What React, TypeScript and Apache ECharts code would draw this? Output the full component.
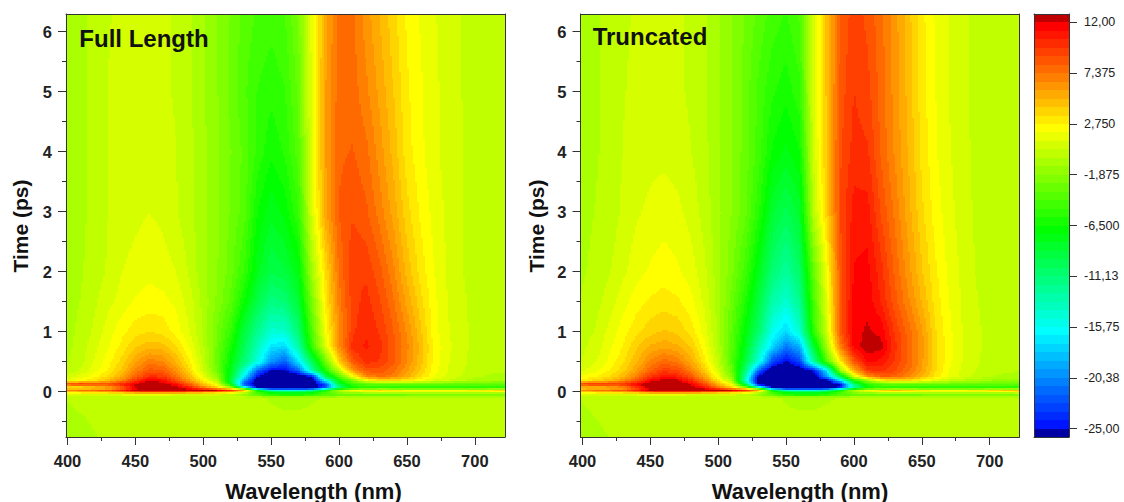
import React, { useEffect, useRef } from "react";
import * as echarts from "echarts";

const wavelengths = [398, 410, 420, 430, 440, 450, 460, 470, 480, 490, 500, 510, 520, 530, 540, 550, 560, 570, 580, 590, 600, 610, 620, 630, 640, 650, 660, 670, 680, 690, 700, 710, 723];
const times = [6.3, 5, 4, 3, 2, 1.5, 1, 0.75, 0.5, 0.35, 0.25, 0.18, 0.13, 0.09, 0.06, 0.02, -0.01, -0.04, -0.07, -0.1, -0.76];

const fullLength = [
  [-.9,-.5,-.1,.4,.55,.6,.6,.55,.35,-.2,-1,-1.8,-2.7,-3.7,-4.3,-4.6,-4.2,-2.5,1.5,5.5,7.6,7.5,6.2,5,3.8,2.6,1.9,1.3,.8,.45,.1,0,-.1],
  [-.9,-.5,-.1,.45,.6,.7,.7,.6,.35,-.2,-1,-1.8,-2.8,-4,-5,-5.5,-5,-3.2,1.5,5.8,7.8,7.8,6.8,5.6,4.3,2.9,2.1,1.4,.9,.45,.1,0,-.1],
  [-.9,-.5,-.1,.45,.7,.85,.9,.8,.45,-.1,-.9,-1.7,-2.6,-3.6,-5.2,-6.3,-5.6,-3.8,1.5,5.8,8,8.2,7.6,6.2,4.8,3.1,2.2,1.4,.9,.5,.1,0,-.1],
  [-.9,-.5,-.1,.45,.75,1,1.2,1,.5,-.1,-.9,-1.7,-2.7,-3.8,-6.5,-7.8,-7,-5,1,5.6,8.2,8.8,8.3,7,5.5,3.8,2.6,1.7,1,.5,.1,0,-.1],
  [-.8,-.4,0,.55,1.2,1.5,1.8,1.6,1.2,.3,-.9,-1.8,-3,-5,-7.8,-9.5,-9,-7.5,-1,3.5,7.5,9.6,9.5,8.4,6.8,4.8,3.2,2,1.1,.5,.1,0,-.1],
  [-.7,-.3,.3,1,1.5,2.1,2.3,2.2,1.8,.8,-.6,-2,-3.6,-6.5,-9.5,-11.5,-11,-8.8,-2.5,3,7,9.3,10,9,7.5,5.6,3.8,2.2,1.2,.6,.2,0,-.1],
  [-.7,-.1,.6,1.6,2.5,3.2,3.5,3.3,2.4,1.2,-.5,-2.6,-5,-9,-12,-14.5,-14.5,-11,-4,2,6.5,9.5,10.4,9.6,8.2,6.5,4.5,2.3,1.3,.7,.2,0,-.1],
  [-.6,0,1,1.9,3,4.2,4.8,4.6,3.5,1.9,-.2,-2.8,-6,-9.8,-13.5,-17,-17.5,-13,-5,1,6.5,10,10.6,10,8.4,6.8,4.8,2.6,1.4,.7,.2,0,-.1],
  [-.5,.2,1.3,2.4,3.8,5.6,7,6.7,5,2.8,.2,-3,-7,-11,-15,-20,-22,-17,-10,-3,4,8.5,10,9.6,8.4,6.6,4.6,2.5,1.3,.7,.1,-.1,-.2],
  [-.3,.6,1.7,2.8,4.5,6.8,8.5,8.2,6.3,3.6,.6,-2.6,-7.5,-14,-22,-25.3,-25.3,-22,-13,-6,0,6,8.5,8.6,7.6,6,4.2,2.3,1.2,.6,0,-.2,-.3],
  [.5,1.6,2.5,3.8,5.5,8,10,9.8,7.6,4.8,1.6,-1.5,-7.8,-16.5,-25,-27,-27,-27,-25,-10,-4,2,6.5,7.5,7,5.4,3.6,2,1,.4,-.2,-.4,-.5],
  [1.5,2.5,3.5,5,7,10,12.2,11.5,9,6,3,0,-9,-20,-27,-27,-27,-27,-27,-17,-7,-3,1.5,2.8,3,2.7,2,1,.4,-.3,-.8,-1,-1.2],
  [9,10,9,9,10.5,12,12.8,12.5,11,8,4.5,1.5,-7,-22,-27,-27,-27,-27,-27,-22,-8,-4.5,-3.5,-3,-3,-3,-3,-3,-3.2,-3.2,-3.3,-3.3,-3.4],
  [5,5,6,7,9.5,12.5,13.5,13,12,9.5,6,3,-3,-20,-27,-27,-27,-27,-27,-24,-12,-6.5,-5,-5,-5,-5,-5,-5,-5,-5,-5,-5,-5],
  [3,3,3.5,4.5,7,11.5,13.5,13.5,13,11,8,5,1,-8,-24,-27,-27,-27,-27,-20,-10,-6,-5.5,-5,-5,-5,-5,-5,-5,-5,-5,-5,-5],
  [6.5,7.5,8,8.5,10.5,12.6,13.5,13.5,13,12.8,12.5,12,10,5,-7,-14,-15,-15,-13,-7,-1,2,3,3.6,3.2,2.6,2.4,2.4,2.4,2.6,3,3.4,3.8],
  [3,3.5,4,4.5,5.5,7,8,8,7.5,7,6,5,4,1,-4,-7,-8,-8,-7,-4,-1,0,.6,.8,.7,.5,.5,.5,.5,.6,.7,.8,.9],
  [1,1.5,1.8,2,2,2.2,2.2,2.2,2,1.8,1.5,1,.3,-2,-5,-7,-8,-8,-7,-5,-4,-3.5,-3.5,-3.5,-3.5,-3.5,-3.2,-3,-3,-3,-3,-2.8,-2.6],
  [0,.2,.3,.3,.4,.4,.4,.4,.3,.3,.2,.1,0,-.5,-2,-3.5,-4,-4,-3.5,-2.8,-2.4,-2,-2,-2,-2,-1.8,-1.6,-1.5,-1.5,-1.5,-1.4,-1.3,-1.2],
  [-.3,0,.1,.1,.1,.1,.1,.1,.1,.1,.1,.1,.1,0,-.2,-.4,-.5,-.5,-.4,-.3,-.2,-.2,-.2,-.2,-.2,-.1,-.1,-.1,-.1,-.1,-.1,-.1,-.1],
  [-1.2,-.8,-.4,-.1,0,0,0,0,0,0,0,0,0,0,0,0,0,0,0,0,0,0,0,0,0,0,0,0,0,0,0,0,0],
];

const truncated = [
  [-.7,-.4,-.1,.3,.55,.6,.6,.55,.3,-.2,-1,-1.8,-2.7,-3.7,-4.5,-5,-4,1,4.5,8.2,9.3,8.7,7.6,6.2,4.6,3,1.9,1.2,.6,.2,0,0,-.1],
  [-.7,-.4,-.1,.4,.6,.7,.7,.6,.3,-.2,-1,-1.9,-3,-4.4,-5.6,-6.2,-5.2,1,4.5,8.5,9.7,9.2,7.8,6.3,4.8,3.1,2,1.2,.6,.2,0,0,-.1],
  [-.7,-.4,-.1,.45,.75,.95,1,.85,.45,-.1,-1,-1.9,-3,-4.6,-6.6,-7.5,-6.5,.5,4.5,8.8,10,9.8,8,6.5,5,3.3,2.1,1.3,.7,.25,.05,0,-.1],
  [-.6,-.3,0,.6,1.1,1.4,1.6,1.4,.9,.1,-.9,-1.9,-3.2,-5.6,-8.6,-9.8,-8.4,-.3,4,9,10.8,10.8,8.8,7.2,5.4,3.7,2.4,1.5,.8,.3,.05,0,-.1],
  [-.5,-.1,.4,1,1.7,2.1,2.4,2.1,1.6,.6,-.8,-2.4,-4.6,-7.8,-11,-12.5,-10.5,-3.5,2,8.5,11.3,11.5,10,8,6.2,4.4,2.9,1.8,1,.4,.1,0,-.1],
  [-.3,.2,.8,1.7,2.4,2.9,3.1,2.9,2.2,1,-.7,-3,-5.8,-9.2,-13,-14.5,-12,-4.6,1.3,8.5,11.6,11.8,10.4,8.5,6.8,5,3.2,2,1.1,.5,.1,0,-.1],
  [0,.5,1.5,2.4,3.3,4,4.4,4.1,3.2,1.6,-.6,-3.6,-7,-10.8,-15.5,-17.5,-14.5,-5.5,.5,8.5,11.8,12.1,11.8,9.6,7.8,6,3.6,2.2,1.2,.6,.2,0,-.1],
  [.2,.8,1.8,2.8,4.2,5.2,5.6,5.2,4.2,2.2,-.4,-3.8,-7.8,-13,-17.5,-21,-19,-9,-1,7,11.5,12.5,12.3,10,8,6.2,3.8,2.3,1.2,.6,.2,0,-.1],
  [.4,1.2,2.2,3.4,5,6.8,7.8,7.2,5.4,3,.2,-3.8,-9,-15,-23,-25.3,-23,-13,-4,3,8.5,11.5,11,9.6,8,6,3.8,2.2,1.2,.6,.1,-.1,-.2],
  [1,1.8,2.8,4,5.8,8,9.5,9,7,4.2,.9,-3.2,-11,-22,-27,-27,-27,-25,-17,-1,5,9.5,10,9,7.6,5.8,3.6,2,1,.4,0,-.2,-.3],
  [2,2.8,3.6,5,7.2,9.8,11,10.6,8.6,5.6,1.9,-2,-13,-26,-27,-27,-27,-27,-20,-10,1,6,8,8,6.8,5,3.2,1.8,.9,.2,-.3,-.5,-.6],
  [3,4,5,6.5,8.8,11.6,12.8,12.4,10.4,7.2,3.3,-.5,-14,-27,-27,-27,-27,-27,-27,-18,-7,-2,2,3,3,2.2,1,0,-.5,-1,-1.3,-1.4,-1.5],
  [9.5,10.5,9.5,10,11.5,13,13.5,13.2,11.8,9,5,1.5,-10,-27,-27,-27,-27,-27,-27,-24,-10,-5,-3.5,-3.2,-3,-3,-3,-3,-3.2,-3.2,-3.3,-3.3,-3.4],
  [6,6,7,8,11,13.5,13.8,13.5,12.6,10,6.2,3,-5,-20,-27,-27,-27,-27,-27,-26,-14,-6.5,-5,-5,-5,-5,-5,-5,-5,-5,-5,-5,-5],
  [4,4,4.5,5.5,8.5,12.5,13.8,13.5,13,11.5,8.5,5,1,-8,-24,-27,-27,-27,-27,-21,-11,-6,-5.5,-5,-5,-5,-5,-5,-5,-5,-5,-5,-5],
  [6.5,7.5,8,8.5,10.5,12.6,13.5,13.5,13,12.8,12.5,12,10,5,-8,-14,-15,-15,-13,-7,-1,2,3.5,4.5,4,3,2.6,2.6,2.6,3,3.6,4.4,5],
  [3,3.5,4,4.5,5.5,7,8,8,7.5,7,6,5,4,1,-4,-7,-8,-8,-7,-4,-1,0,.7,1,.9,.6,.5,.5,.5,.6,.8,1,1.2],
  [1,1.5,1.8,2,2,2.2,2.2,2.2,2,1.8,1.5,1,.3,-2,-5,-7,-8,-8,-7,-5,-4,-3.5,-3.5,-3.5,-3.5,-3.5,-3.2,-3,-3,-3,-3,-2.8,-2.6],
  [0,.2,.3,.3,.4,.4,.4,.4,.3,.3,.2,.1,0,-.5,-2,-3.5,-4,-4,-3.5,-2.8,-2.4,-2,-2,-2,-2,-1.8,-1.6,-1.5,-1.5,-1.5,-1.4,-1.3,-1.2],
  [-.3,0,.1,.1,.1,.1,.1,.1,.1,.1,.1,.1,.1,0,-.2,-.4,-.5,-.5,-.4,-.3,-.2,-.2,-.2,-.2,-.2,-.1,-.1,-.1,-.1,-.1,-.1,-.1,-.1],
  [-1,-.6,-.3,-.1,0,0,0,0,0,0,0,0,0,0,0,0,0,0,0,0,0,0,0,0,0,0,0,0,0,0,0,0,0],
];

const xMajor = [400, 450, 500, 550, 600, 650, 700];
const xMinor = [425, 475, 525, 575, 625, 675];
const yMajor = [0, 1, 2, 3, 4, 5, 6];
const yMinor = [-0.5, 0.5, 1.5, 2.5, 3.5, 4.5, 5.5];
const scaleTicks = [12, 7.375, 2.75, -1.875, -6.5, -11.125, -15.75, -20.375, -25];
const scaleLabels = ["12,00", "7,375", "2,750", "-1,875", "-6,500", "-11,13", "-15,75", "-20,38", "-25,00"];
const panelTitles = ["Full Length", "Truncated"];

const LOW = -25;
const STEP = 4.625 / 6;
const BANDS = 48;
const FONT = "'Liberation Sans', Arial, sans-serif";
const INK = "#222";

function bandColor(k: number): string {
  if (k < 0) return "rgb(0,0,165)";
  if (k >= BANDS) return "rgb(190,0,0)";
  const s = 255 / 12;
  if (k <= 11) return `rgb(0,${Math.round(s * (k + 1))},255)`;
  if (k <= 23) return `rgb(0,255,${Math.round(255 - s * (k - 11))})`;
  if (k <= 35) return `rgb(${Math.round(s * (k - 23))},255,0)`;
  return `rgb(255,${Math.round(255 - s * (k - 35))},0)`;
}
const valueBand = (v: number) => Math.floor((v - LOW) / STEP);

const cellsOf = (rows: number[][]) => {
  const out: number[][] = [];
  for (let j = 0; j < times.length - 1; j++)
    for (let i = 0; i < wavelengths.length - 1; i++) out.push([i, j, wavelengths[i], times[j], rows[j][i]]);
  return out;
};

const contourCell = (rows: number[][]) => (_p: any, api: any) => {
  const i = api.value(0);
  const j = api.value(1);
  const a = api.coord([wavelengths[i], times[j]]);
  const b = api.coord([wavelengths[i + 1], times[j + 1]]);
  const x0 = Math.round(a[0]);
  const x1 = Math.round(b[0]);
  const y0 = Math.round(a[1]);
  const y1 = Math.round(b[1]);
  const v00 = rows[j][i];
  const v10 = rows[j][i + 1];
  const v01 = rows[j + 1][i];
  const v11 = rows[j + 1][i + 1];
  const children: any[] = [];
  const sx = 2;
  const sy = 2;
  for (let y = y0; y < y1; y += sy) {
    const h = Math.min(sy, y1 - y);
    const fy = (y + h / 2 - a[1]) / (b[1] - a[1]);
    let runStart = x0;
    let runBand: number | null = null;
    for (let x = x0; x < x1; x += sx) {
      const w = Math.min(sx, x1 - x);
      const fx = (x + w / 2 - a[0]) / (b[0] - a[0]);
      const v = (v00 * (1 - fx) + v10 * fx) * (1 - fy) + (v01 * (1 - fx) + v11 * fx) * fy;
      const k = Math.max(-1, Math.min(BANDS, valueBand(v)));
      if (runBand === null) runBand = k;
      else if (k !== runBand) {
        children.push({ type: "rect", shape: { x: runStart, y, width: x - runStart, height: h }, style: { fill: bandColor(runBand) }, silent: true });
        runStart = x;
        runBand = k;
      }
    }
    children.push({ type: "rect", shape: { x: runStart, y, width: x1 - runStart, height: h }, style: { fill: bandColor(runBand as number) }, silent: true });
  }
  return { type: "group", children };
};

const colorBand = (_p: any, api: any) => {
  const k = api.value(0);
  const top = api.coord([1, LOW + (k + 1) * STEP]);
  const bot = api.coord([0, LOW + k * STEP]);
  return {
    type: "rect",
    shape: { x: bot[0], y: Math.round(top[1]), width: top[0] - bot[0], height: Math.round(bot[1]) - Math.round(top[1]) },
    style: { fill: bandColor(k) },
    silent: true,
  };
};

const labelStyle = { fontFamily: FONT, fontWeight: "bold" as const, fontSize: 16.5, color: INK };
const lineStyle = { color: "#333", width: 1 };

function panelAxes(grid: number, xMin: number, xMax: number) {
  const base = { gridIndex: grid, type: "value" as const, scale: true, splitLine: { show: false }, z: 5 };
  const xb = { ...base, min: xMin, max: xMax };
  const yb = { ...base, min: -0.755, max: 6.295 };
  const off = { axisLabel: { show: false }, axisTick: { show: false } };
  return {
    x: [
      { ...xb, position: "bottom", axisLine: { show: true, onZero: false, lineStyle }, axisTick: { show: true, length: 8, lineStyle, customValues: xMajor }, axisLabel: { ...labelStyle, margin: 15, customValues: xMajor, showMinLabel: true, showMaxLabel: true } },
      { ...xb, position: "bottom", axisLine: { show: false, onZero: false }, axisLabel: { show: false }, axisTick: { show: true, length: 4, lineStyle, customValues: xMinor } },
      { ...xb, position: "top", axisLine: { show: true, onZero: false, lineStyle }, ...off },
    ],
    y: [
      { ...yb, position: "left", axisLine: { show: true, onZero: false, lineStyle }, axisTick: { show: true, length: 8, lineStyle, customValues: yMajor }, axisLabel: { ...labelStyle, margin: 14, customValues: yMajor } },
      { ...yb, position: "left", axisLine: { show: false, onZero: false }, axisLabel: { show: false }, axisTick: { show: true, length: 4, lineStyle, customValues: yMinor } },
      { ...yb, position: "right", axisLine: { show: true, onZero: false, lineStyle }, ...off },
    ],
  };
}

export default function App() {
  const ref = useRef<HTMLDivElement>(null);
  useEffect(() => {
    document.body.style.margin = "0";
    const chart = echarts.init(ref.current as HTMLDivElement, undefined, { renderer: "svg" });
    const a = panelAxes(0, 398.9, 722.2);
    const b = panelAxes(1, 398.5, 722);
    const text = (t: string, x: number, y: number, size: number, rotation = 0) => ({
      type: "text", x, y, rotation, z: 20,
      style: { text: t, fontFamily: FONT, fontWeight: "bold", fontSize: size, fill: "#111", align: "center", verticalAlign: "middle" },
    });
    chart.setOption({
      animation: false,
      backgroundColor: "#fff",
      grid: [
        { left: 66, top: 14, width: 439, height: 423 },
        { left: 580.5, top: 14, width: 439, height: 423 },
        { left: 1034, top: 14, width: 35, height: 423 },
      ],
      xAxis: [
        ...a.x,
        ...b.x,
        { gridIndex: 2, type: "value", min: 0, max: 1, position: "bottom", show: true, axisLine: { show: true, onZero: false, lineStyle }, axisTick: { show: false }, axisLabel: { show: false }, splitLine: { show: false }, z: 5 },
        { gridIndex: 2, type: "value", min: 0, max: 1, position: "top", show: true, axisLine: { show: true, onZero: false, lineStyle }, axisTick: { show: false }, axisLabel: { show: false }, splitLine: { show: false }, z: 5 },
      ],
      yAxis: [
        ...a.y,
        ...b.y,
        {
          gridIndex: 2, type: "value", min: LOW - STEP, max: 12 + STEP, position: "right", z: 5,
          axisLine: { show: true, onZero: false, lineStyle },
          axisTick: { show: true, length: 8, lineStyle, customValues: scaleTicks },
          axisLabel: { margin: 15, fontFamily: FONT, fontSize: 12.5, color: INK, customValues: scaleTicks, formatter: (v: number) => scaleLabels[scaleTicks.indexOf(v)] ?? "" },
          splitLine: { show: false },
        },
        { gridIndex: 2, type: "value", min: LOW - STEP, max: 12 + STEP, position: "left", z: 5, axisLine: { show: true, onZero: false, lineStyle }, axisTick: { show: false }, axisLabel: { show: false }, splitLine: { show: false } },
      ],
      series: [
        { type: "custom", name: panelTitles[0], coordinateSystem: "cartesian2d", xAxisIndex: 0, yAxisIndex: 0, clip: true, z: 1, silent: true, encode: { x: 2, y: 3 }, data: cellsOf(fullLength), renderItem: contourCell(fullLength) },
        { type: "custom", name: panelTitles[1], coordinateSystem: "cartesian2d", xAxisIndex: 3, yAxisIndex: 3, clip: true, z: 1, silent: true, encode: { x: 2, y: 3 }, data: cellsOf(truncated), renderItem: contourCell(truncated) },
        { type: "custom", name: "scale", coordinateSystem: "cartesian2d", xAxisIndex: 6, yAxisIndex: 6, clip: true, z: 1, silent: true, data: Array.from({ length: BANDS + 2 }, (_, n) => [n - 1]), encode: { y: 0 }, renderItem: colorBand },
      ],
      graphic: [
        text(panelTitles[0], 144, 38, 24),
        text(panelTitles[1], 650, 36, 24),
        text("Wavelength (nm)", 313.5, 491, 22),
        text("Wavelength (nm)", 800, 491, 22),
        text("Time (ps)", 20, 226, 21, Math.PI / 2),
        text("Time (ps)", 536, 226, 21, Math.PI / 2),
      ],
    });
    return () => chart.dispose();
  }, []);
  return <div ref={ref} style={{ width: 1124, height: 502 }} />;
}
